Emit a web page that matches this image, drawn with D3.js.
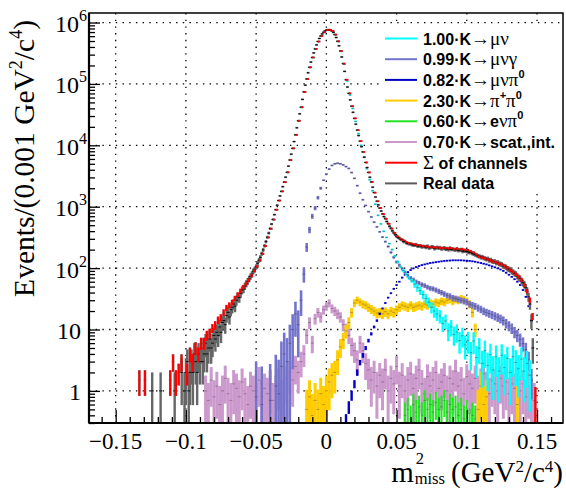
<!DOCTYPE html>
<html><head><meta charset="utf-8">
<script src="https://cdn.jsdelivr.net/npm/d3@7"></script>
<style>body{margin:0;background:#fff}svg{display:block}</style>
</head><body>
<svg id="c" width="566" height="488"></svg>
<script>
// ---------------- DATA ----------------
// Real data, bins of 0.001 starting at -0.140
const dataStart = -0.140, dataStep = 0.001;
const realData = [
0,0,0,0,0,0,0,0,0,0,
0,0,0,0,0,0,1,0,0,0,
0,0,1,0,0,0,0,0,0,0,
0,0,1,0,0,0,0,2,0,1,
2,3,1,2,3,2,4,3,2,4,
3,5,3,4,6,4,5,7,5,6,
8,7,9,8,11,9,13,14,12,17,
19,16,21,23,26,24,30,34,33,39,
44,46,51,56,61,67,73,80,89,96,
105,120,134,150,172,198,231,270,318,372,
440,522,620,742,893,1060,1262,1500,1780,2120,
2520,3030,3640,4580,5770,7170,8930,11500,14820,19300,
25100,32600,41800,56000,74300,95500,120500,152000,186500,227000,
270000,320000,372000,432000,491000,550000,604000,652000,694000,728000,
753000,764000,762000,750000,729000,690000,636000,570000,495000,418000,
344000,275000,214000,160000,117000,89000,70300,55000,43400,34500,
27500,22100,17700,14400,11700,9500,7800,6400,5250,4350,
3620,3020,2530,2080,1700,1440,1230,1070,950,850,
765,690,640,575,530,480,445,405,375,350,
330,315,308,292,290,270,272,258,252,250,
248,240,238,236,242,228,230,232,222,226,
224,218,228,214,216,222,220,208,214,218,
212,216,206,210,214,204,208,200,212,202,
204,200,198,206,194,196,200,188,192,190,
188,184,180,182,174,170,166,162,158,156,
150,152,146,144,140,142,134,136,130,128,
128,122,124,118,116,114,108,106,104,98,
96,94,88,86,82,80,74,70,68,62,
58,54,48,42,34,26,14,5
];

// Simulated channels, bins of 0.002 (already scaled)
const mcStep = 0.002;
const gridStart = -0.140, gridLen = 145;
const muNuStart = -0.140;
const muNu = [
0,0,0,1.5,0,1.5,0,0,0,0,
0,0,0,0,1.5,3,1.5,2,3,0,
2,4,3,5,4,6,6,7,8,9,
11,13,15,18,21,24,27,31,36,42,
48,55,63,74,89,105,132,170,229,316,
437,617,891,1259,1778,2512,3631,5754,8913,14790,
25120,41690,74130,120200,186200,269200,371500,489800,602600,691800,
749900,758600,724400,631000,489800,338800,208900,112200,66070,39810,
24550,15490,10000,6457,4169,2754,1820,1100,724,525,
398,316,251,200,158,126,105,91,79,69,
62,55,48,43,37,32,28,23,20,18,
16.6,12.6,13.8,9.5,11,8.3,9.1,6.6,7.9,5.6,
6.6,4.2,6.5,3.5,5.0,2.8,4.5,2.6,3.9,2.2,
3.6,2.1,3.8,2.4,3.4,2.0,3.6,2.9,2.3,3.3,
2.1,2.8,1.8,0,0
];
const muNuGammaStart = -0.050;
const muNuGamma = [
0.8,0,0.6,0,0,0.7,0,1.2,0.9,2.5,
4,3,6,10,18,12,30,80,220,420,
700,950,1400,2000,2700,3400,4100,4700,5000,5100,
5000,4800,4500,4200,3600,2900,2200,1660,1300,1050,
830,680,560,470,390,320,270,225,180,150,
126,112,98,85,76,69,65,60,57,54,
52,49,47,46,44,42,40,38,36,35,
33,32,31,30,29,28,26,25,24,22.5,
21.4,20,19,18.2,17.4,16.6,15.8,15,14,12.6,
11.5,10.5,9.1,8,6.9,5.9,4.7,3.2,1.5
];
const muNuPi0Start = 0.014;
const muNuPi0 = [
0.32,0.55,0.85,1.3,2.0,2.9,3.8,5,6.6,8.5,
11,14,18,22,27,33,39,46,53,60,
70,78,86,93,99,104,108,112,115,118,
121,123,125,127,129,131,132,133,134,134,
134,134,133,132,131,129,127,124,121,118,
115,111,107,103,99,95,90,84,78,72,
66,60,53,44,34,24,14
];
const piPi0Start = -0.014;
const piPi0 = [
0.5,0.8,0.4,0.7,0.5,0.9,0.6,1.0,1.4,1.8,
2.0,3.2,5.2,6.8,9.5,13,19,27,30,28,
26,25,23,21.5,20,18.5,19,18,19.5,18,
20,19,21,23,25,24,23,25,23,24,
25,24,26,25,27,26,28,27,29,28,
30,31,29,31,30,32,31,29,26,19,
10,0.5,1.2,0.6,0.8,0,0,0,0,0,
0,0,0,0,0,0.6
];
const eNuPi0Start = 0.056;
const eNuPi0 = [
0.4,0.5,0.35,0.6,0.45,0.55,0.4,0.7,0.5,0.6,
0.45,0.65,0.5,0.55,0.7,0.45,0.6,0.5,0.55,0.4,
0.5,0.35,0.45,0.3,0.4,0.35,0.3
];
const scatStart = -0.086;
const scat = [
1.0,0.7,1.5,0.8,1.2,0.6,1.0,1.6,0.9,0.7,
1.3,1.1,0.8,1.4,0.9,0.6,1.2,1.0,0.7,1.5,
0.8,1.1,0.9,1.3,0.7,1.0,1.4,0.8,1.6,1.2,
2.0,1.5,2.5,2.0,3.0,4.0,8,13,6,15,
19,16,21,24,27,22,20,18,16,12,
10,8,5.5,4.5,3.2,6,4.5,2.8,2.2,1.5,
2.0,1.2,1.8,1.4,2.2,1.0,1.6,1.3,2.5,1.2,
1.8,1.0,1.5,1.9,1.1,1.6,2.2,1.3,0.9,1.7,
1.2,1.5,2.0,1.1,1.4,1.8,1.0,1.6,1.3,2.1,
1.2,1.5,0.9,1.7,1.3,1.1,1.6,1.0,1.4,1.9,
1.2,0.9,1.5,1.3,1.0,1.6,1.2,1.4,0.9,1.3,
1.1,1.5,1.0,1.3,0.8,1.2,0.9,0.7
];

const xTickValues = [-0.15,-0.1,-0.05,0,0.05,0.1,0.15];
const xTickLabels = ["\u22120.15","\u22120.1","\u22120.05","0","0.05","0.1","0.15"];
const yTickValues = [1,10,100,1000,10000,100000,1000000];
const yTickExp = [null,null,"2","3","4","5","6"];
const yTickBase = ["1","10","10","10","10","10","10"];

const seriesColors = {
  muNu:"#00ffff", muNuGamma:"#7474cc", muNuPi0:"#0000c8", piPi0:"#ffcc00",
  eNuPi0:"#22e622", scat:"#cc99cc", sum:"#ff0000", data:"#5a5a5a"
};
const legendLabels = [
  [["1.00\u00b7K","b"],["\u2192\u03bc\u03bd","g"]],
  [["0.99\u00b7K","b"],["\u2192\u03bc\u03bd\u03b3","g"]],
  [["0.82\u00b7K","b"],["\u2192\u03bc\u03bd\u03c0","g"],["0","sup"]],
  [["2.30\u00b7K","b"],["\u2192\u03c0","g"],["+","sup"],["\u03c0","g"],["0","sup"]],
  [["0.60\u00b7K","b"],["\u2192","g"],["e","b"],["\u03bd\u03c0","g"],["0","sup"]],
  [["0.70\u00b7K","b"],["\u2192","g"],["scat.,int.","b"]],
  [["\u03a3","g"],[" of channels","b"]],
  [["Real data","b"]]
];
const legendKeys = ["muNu","muNuGamma","muNuPi0","piPi0","eNuPi0","scat","sum","data"];

// --------------- CHART ----------------
const svg = d3.select("#c");
const M = {l:89, r:563, t:13, b:423};
const yMin = 0.3;
const xS = d3.scaleLinear().domain([-0.169, 0.1685]).range([M.l, M.r]);
const yS = d3.scaleLog().domain([yMin, 1.43e6]).range([M.b, M.t]);
const serif = "'Liberation Serif','Times New Roman',serif";
const sans = "'Liberation Sans',Arial,sans-serif";

svg.append("defs").append("clipPath").attr("id","clip")
  .append("rect").attr("x",M.l).attr("y",M.t).attr("width",M.r-M.l).attr("height",M.b-M.t);

// grid
const grid = svg.append("g").attr("stroke","#000").attr("stroke-width",1.3).attr("stroke-dasharray","1.4,5.3");
grid.selectAll(null).data(xTickValues).enter().append("line")
  .attr("x1",d=>xS(d)).attr("x2",d=>xS(d)).attr("y1",M.t).attr("y2",M.b);
grid.selectAll(null).data(yTickValues).enter().append("line")
  .attr("y1",d=>yS(d)).attr("y2",d=>yS(d)).attr("x1",M.l).attr("x2",M.r);

const plot = svg.append("g").attr("clip-path","url(#clip)");

function pts(vals, start, step){
  return vals.map((v,i)=>({x:start+i*step, v:v})).filter(d=>d.v>0);
}
function drawSeries(p, color, kf, barW, dashColor, dashW, dashOp, dx){
  dx = dx || 0;
  const g = plot.append("g");
  g.selectAll(null).data(p).enter().append("rect")
    .attr("fill", color)
    .each(function(d){
      const k = typeof kf === "function" ? kf(d) : kf;
      const e = Math.sqrt(d.v*k);
      let y0 = yS(d.v+e), y1 = yS(Math.max(d.v-e, yMin*0.9));
      if (y1-y0 < 1.8){ const c = yS(d.v); y0 = c-0.9; y1 = c+0.9; }
      d3.select(this).attr("x", xS(d.x)-barW/2+dx).attr("width", barW)
        .attr("y", y0).attr("height", y1-y0);
    });
  if (dashColor){
    g.selectAll(null).data(p).enter().append("rect")
      .attr("fill", dashColor).attr("opacity", dashOp)
      .attr("x", d=>xS(d.x)-dashW/2+dx).attr("width", dashW)
      .attr("y", d=>yS(d.v)-0.5).attr("height", 1);
  }
}

// sum of channels on the common 0.002 grid
const channels = [[muNu,muNuStart],[muNuGamma,muNuGammaStart],[muNuPi0,muNuPi0Start],
                  [piPi0,piPi0Start],[eNuPi0,eNuPi0Start],[scat,scatStart]];
const sumCh = new Array(gridLen).fill(0);
channels.forEach(([arr,s])=>{
  const off = Math.round((s-gridStart)/mcStep);
  arr.forEach((v,i)=>{ if(off+i<gridLen) sumCh[off+i]+=v; });
});

drawSeries(pts(scat,scatStart,mcStep), seriesColors.scat, 0.6, 3, "#333", 3, 0.35);
drawSeries(pts(eNuPi0,eNuPi0Start,mcStep), seriesColors.eNuPi0, 0.15, 2, "#333", 2.5, 0.35);
drawSeries(pts(piPi0,piPi0Start,mcStep), seriesColors.piPi0, 0.6, 3, "#333", 3, 0.35);
drawSeries(pts(muNuPi0,muNuPi0Start,mcStep), seriesColors.muNuPi0, 0.03, 2.4, null);
drawSeries(pts(muNuGamma,muNuGammaStart,mcStep), seriesColors.muNuGamma,
           d => d.x < -0.004 ? 6 : 0.4, 2.6, "#333", 3, 0.4);
drawSeries(pts(muNu,muNuStart,mcStep), seriesColors.muNu, d => d.x > 0.06 ? 1.0 : 0.3, 2.4, "#333", 3, 0.4, 1.2);
drawSeries(pts(realData,dataStart,dataStep), "#666", 1, 2.4, "#000", 3, 0.85);
drawSeries(pts(sumCh,gridStart,mcStep), seriesColors.sum, 0.3, 2.4, null, 0, 0, 1.2);

// axes
const ax = svg.append("g").attr("stroke","#000").attr("fill","none");
ax.append("rect").attr("x",M.l).attr("y",M.t).attr("width",M.r-M.l).attr("height",M.b-M.t)
  .attr("stroke-width",1.5);
ax.append("line").attr("x1",M.l).attr("x2",M.l).attr("y1",M.t).attr("y2",M.b).attr("stroke-width",2.2);
ax.append("line").attr("x1",M.l).attr("x2",M.r).attr("y1",M.b).attr("y2",M.b).attr("stroke-width",2.2);

const xMinor = d3.range(-16,17).map(i=>i/100).filter(v=>xTickValues.every(t=>Math.abs(t-v)>1e-9));
const xAxMaj = d3.axisBottom(xS).tickValues(xTickValues).tickSizeInner(-13).tickSizeOuter(0).tickFormat("");
const xAxMin = d3.axisBottom(xS).tickValues(xMinor).tickSizeInner(-6).tickSizeOuter(0).tickFormat("");
[xAxMaj,xAxMin].forEach(a=>{
  const g = svg.append("g").attr("transform",`translate(0,${M.b})`).call(a);
  g.select(".domain").remove(); g.selectAll("line").attr("stroke-width",1.3);
});
const yMinor = [];
for (let e=-1; e<=5; e++) for (let m=2; m<=9; m++){ const v=m*Math.pow(10,e); if(v>=yMin && v<1.43e6) yMinor.push(v); }
const yAxMaj = d3.axisLeft(yS).tickValues(yTickValues).tickSizeInner(-11).tickSizeOuter(0).tickFormat("");
const yAxMin = d3.axisLeft(yS).tickValues(yMinor).tickSizeInner(-6).tickSizeOuter(0).tickFormat("");
[yAxMaj,yAxMin].forEach(a=>{
  const g = svg.append("g").attr("transform",`translate(${M.l},0)`).call(a);
  g.select(".domain").remove(); g.selectAll("line").attr("stroke-width",1.3);
});

// x tick labels
svg.append("g").selectAll(null).data(xTickValues).enter().append("text")
  .attr("x",d=>xS(d)).attr("y",449).attr("text-anchor","middle")
  .attr("font-family",serif).attr("font-size",23)
  .text((d,i)=>xTickLabels[i]);

// y tick labels
yTickValues.forEach((v,i)=>{
  const t = svg.append("text").attr("y", yS(v)+9.5).attr("font-family",serif).attr("font-size",24)
    .attr("text-anchor","end");
  if (yTickExp[i]){
    t.attr("x",87);
    t.append("tspan").text(yTickBase[i]);
    t.append("tspan").attr("font-size",16).attr("dy",-11).text(yTickExp[i]);
  } else {
    t.attr("x",81).text(yTickBase[i]);
  }
});

// y title
const yt = svg.append("text").attr("transform","translate(34,20) rotate(-90)")
  .attr("text-anchor","end").attr("font-family",serif).attr("font-size",29.5);
yt.append("tspan").text("Events/(0.001 GeV");
yt.append("tspan").attr("font-size",18).attr("dy",-12).text("2");
yt.append("tspan").attr("dy",12).text("/c");
yt.append("tspan").attr("font-size",18).attr("dy",-12).text("4");
yt.append("tspan").attr("dy",12).text(")");

// x title
const xt = svg.append("text").attr("x",563).attr("y",482).attr("text-anchor","end")
  .attr("font-family",serif).attr("font-size",29);
xt.append("tspan").text("(GeV");
xt.append("tspan").attr("font-size",17).attr("dy",-10).text("2");
xt.append("tspan").attr("dy",10).text("/c");
xt.append("tspan").attr("font-size",17).attr("dy",-10).text("4");
xt.append("tspan").attr("dy",10).text(")");
const xtStart = 563 - xt.node().getComputedTextLength();
const miss = svg.append("text").attr("x",xtStart-6).attr("y",484).attr("text-anchor","end")
  .attr("font-family",serif).attr("font-size",16.5).text("miss");
const missStart = xtStart-6-miss.node().getComputedTextLength();
svg.append("text").attr("x",missStart+1).attr("y",464).attr("font-family",serif).attr("font-size",16.5).text("2");
svg.append("text").attr("x",missStart-1).attr("y",482).attr("text-anchor","end")
  .attr("font-family",serif).attr("font-size",29).text("m");

// legend
const lg = svg.append("g");
lg.append("rect").attr("x",379).attr("y",26).attr("width",182).attr("height",168).attr("fill","#fff");
legendLabels.forEach((parts,i)=>{
  const cy = 38.5 + 20.7*i;
  lg.append("line").attr("x1",385).attr("x2",417).attr("y1",cy).attr("y2",cy)
    .attr("stroke",seriesColors[legendKeys[i]]).attr("stroke-width",2);
  const t = lg.append("text").attr("x",423).attr("y",cy+6);
  let lift = 0;
  parts.forEach(([s,st])=>{
    const ts = t.append("tspan").text(s);
    if (st==="b"){ ts.attr("font-family",sans).attr("font-weight","bold").attr("font-size",16); }
    else if (st==="g"){ ts.attr("font-family",serif).attr("font-size",19); }
    else { ts.attr("font-family",sans).attr("font-weight","bold").attr("font-size",11); }
    const want = st==="sup" ? -8 : 0;
    if (want!==lift){ ts.attr("dy", want-lift); lift = want; }
  });
});
</script>
</body></html>
